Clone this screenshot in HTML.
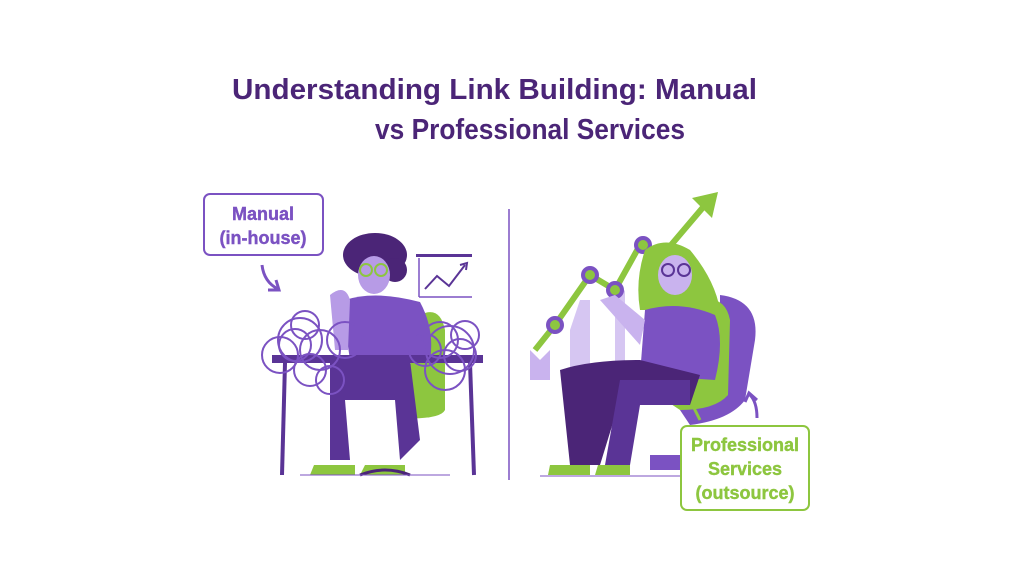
<!DOCTYPE html>
<html><head><style>
html,body{margin:0;padding:0;background:#fff;width:1024px;height:576px;overflow:hidden}
</style></head><body>
<svg width="1024" height="576" viewBox="0 0 1024 576" xmlns="http://www.w3.org/2000/svg" font-family="Liberation Sans, sans-serif">
<rect width="1024" height="576" fill="#fff"/>
<text x="232" y="99" font-size="29" font-weight="bold" fill="#4b2577" textLength="525" lengthAdjust="spacingAndGlyphs">Understanding Link Building: Manual</text>
<text x="375" y="139" font-size="29" font-weight="bold" fill="#4b2577" textLength="310" lengthAdjust="spacingAndGlyphs">vs Professional Services</text>

<line x1="509" y1="209" x2="509" y2="480" stroke="#7b52c2" stroke-width="1.5"/>

<rect x="204" y="194" width="119" height="61" rx="6" fill="#fff" stroke="#7b52c2" stroke-width="2"/>
<text x="263" y="220" text-anchor="middle" font-size="18" font-weight="bold" fill="#7b52c2" stroke="#7b52c2" stroke-width="0.4">Manual</text>
<text x="263" y="244" text-anchor="middle" font-size="18" font-weight="bold" fill="#7b52c2" stroke="#7b52c2" stroke-width="0.4">(in-house)</text>
<path d="M262 265 Q264 282 278 289" fill="none" stroke="#7b52c2" stroke-width="3"/>
<path d="M268 290 L279 290 L276 280" fill="none" stroke="#7b52c2" stroke-width="3"/>

<rect x="416" y="254" width="56" height="3" fill="#5a3496"/>
<line x1="419" y1="258" x2="419" y2="297" stroke="#7b52c2" stroke-width="1.5"/>
<line x1="419" y1="297" x2="472" y2="297" stroke="#7b52c2" stroke-width="1.5"/>
<polyline points="425,289 437,276 449,286 465,265" fill="none" stroke="#5a3496" stroke-width="2"/>
<path d="M460 265 L467 263 L466 270" fill="none" stroke="#5a3496" stroke-width="2"/>

<path d="M420 315 Q440 305 445 330 L445 410 Q440 420 400 418 Z" fill="#8dc63f"/>
<ellipse cx="375" cy="255" rx="32" ry="22" fill="#4b2577"/>
<circle cx="395" cy="270" r="12" fill="#4b2577"/>
<ellipse cx="374" cy="275" rx="16" ry="19" fill="#b79be6"/>
<circle cx="366" cy="270" r="6" fill="none" stroke="#8dc63f" stroke-width="2"/>
<circle cx="381" cy="270" r="6" fill="none" stroke="#8dc63f" stroke-width="2"/>
<path d="M345 300 Q375 290 420 302 Q435 330 430 360 L350 360 Q345 330 345 300 Z" fill="#7b52c2"/>
<path d="M330 295 Q345 283 350 300 L348 350 L335 350 Z" fill="#b79be6"/>
<path d="M330 360 L410 360 L420 440 L400 460 L395 400 L345 400 L350 460 L330 460 Z" fill="#5a3496"/>
<path d="M314 465 L355 465 L355 475 L310 475 Z" fill="#8dc63f"/>
<path d="M365 465 L405 465 L405 475 L360 475 Z" fill="#8dc63f"/>
<path d="M360 475 Q385 465 410 475" fill="none" stroke="#4b2577" stroke-width="3"/>
<rect x="272" y="355" width="211" height="8" fill="#5a3496"/>
<line x1="285" y1="363" x2="282" y2="475" stroke="#5a3496" stroke-width="4"/>
<line x1="470" y1="363" x2="474" y2="475" stroke="#5a3496" stroke-width="4"/>
<line x1="300" y1="475" x2="450" y2="475" stroke="#7b52c2" stroke-width="1"/>
<g fill="none" stroke="#7b52c2" stroke-width="2">
<circle cx="305" cy="325" r="14"/><circle cx="295" cy="345" r="16"/><circle cx="320" cy="350" r="20"/>
<circle cx="280" cy="355" r="18"/><circle cx="330" cy="380" r="14"/><circle cx="345" cy="340" r="18"/>
<circle cx="310" cy="370" r="16"/><circle cx="300" cy="340" r="22"/>
<circle cx="440" cy="340" r="18"/><circle cx="460" cy="355" r="16"/><circle cx="445" cy="370" r="20"/>
<circle cx="425" cy="350" r="16"/><circle cx="465" cy="335" r="14"/><circle cx="450" cy="350" r="24"/>
</g>

<path d="M530 350 L540 360 L550 350 L550 380 L530 380 Z" fill="#c9b3ee"/>
<path d="M570 330 L580 300 L590 300 L590 380 L570 380 Z" fill="#d6c6f2"/>
<path d="M615 300 L625 290 L625 375 L615 375 Z" fill="#d6c6f2"/>
<path d="M645 265 L655 270 L655 370 L645 370 Z" fill="#d6c6f2"/>
<polyline points="535,350 555,325 590,275 615,290 640,245 660,258 705,205" fill="none" stroke="#8dc63f" stroke-width="6"/>
<path d="M692 198 L718 192 L712 218 Z" fill="#8dc63f"/>
<g fill="#8dc63f" stroke="#7b52c2" stroke-width="4">
<circle cx="555" cy="325" r="7"/><circle cx="590" cy="275" r="7"/><circle cx="615" cy="290" r="7"/><circle cx="643" cy="245" r="7"/>
</g>
<path d="M720 295 Q760 300 755 340 L745 400 Q730 420 690 425 L680 410 L720 400 Z" fill="#7b52c2"/>
<path d="M700 300 Q725 295 730 320 L728 395 Q715 410 680 410 L665 400 Z" fill="#8dc63f"/>
<line x1="680" y1="380" x2="700" y2="420" stroke="#8dc63f" stroke-width="3"/>
<path d="M650 455 L690 455 L690 470 L650 470 Z" fill="#7b52c2"/>
<path d="M645 250 Q665 235 690 250 Q715 280 720 310 L640 310 Q635 280 645 250 Z" fill="#8dc63f"/>
<ellipse cx="675" cy="275" rx="17" ry="20" fill="#c9b3ee"/>
<circle cx="668" cy="270" r="6" fill="none" stroke="#5a3496" stroke-width="2"/>
<circle cx="684" cy="270" r="6" fill="none" stroke="#5a3496" stroke-width="2"/>
<path d="M645 310 Q680 300 715 315 Q725 340 715 380 L640 375 Z" fill="#7b52c2"/>
<path d="M600 300 L615 295 L645 320 L640 345 Z" fill="#c9b3ee"/>
<path d="M560 370 Q590 360 640 360 L700 375 L690 405 L620 400 L600 465 L570 465 Z" fill="#4b2577"/>
<path d="M620 380 L690 380 L690 405 L640 405 L630 465 L605 465 Z" fill="#5a3496"/>
<path d="M550 465 L590 465 L590 475 L548 475 Z" fill="#8dc63f"/>
<path d="M598 465 L630 465 L630 475 L595 475 Z" fill="#8dc63f"/>
<line x1="540" y1="476" x2="690" y2="476" stroke="#7b52c2" stroke-width="1"/>

<path d="M757 418 Q757 402 750 395" fill="none" stroke="#7b52c2" stroke-width="3"/>
<path d="M745 402 L749 393 L757 400" fill="none" stroke="#7b52c2" stroke-width="3"/>
<rect x="681" y="426" width="128" height="84" rx="6" fill="#fff" stroke="#8dc63f" stroke-width="2"/>
<text x="745" y="451" text-anchor="middle" font-size="18" font-weight="bold" fill="#8dc63f" stroke="#8dc63f" stroke-width="0.4">Professional</text>
<text x="745" y="475" text-anchor="middle" font-size="18" font-weight="bold" fill="#8dc63f" stroke="#8dc63f" stroke-width="0.4">Services</text>
<text x="745" y="499" text-anchor="middle" font-size="18" font-weight="bold" fill="#8dc63f" stroke="#8dc63f" stroke-width="0.4">(outsource)</text>
</svg>
</body></html>
